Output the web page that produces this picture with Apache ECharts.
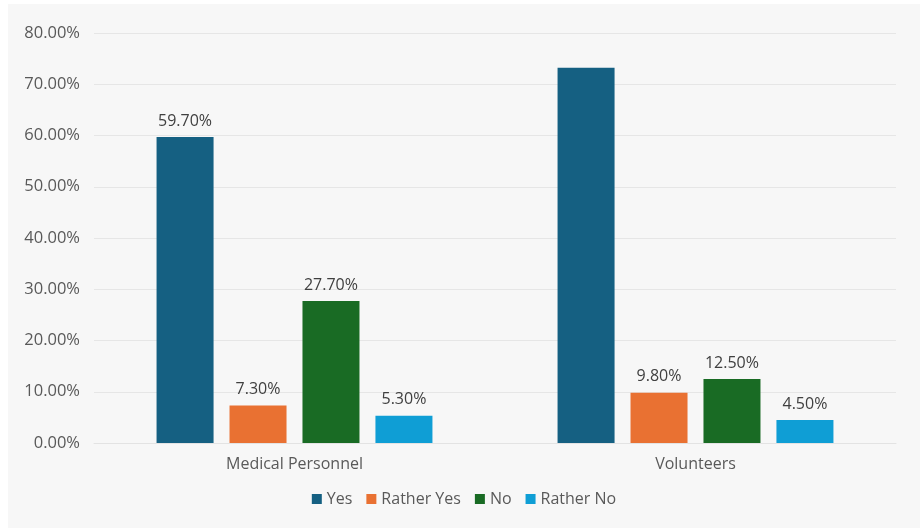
<!DOCTYPE html>
<html>
<head>
<meta charset="utf-8">
<script src="https://cdn.jsdelivr.net/npm/echarts@6/dist/echarts.min.js"></script>
<style>
html,body{margin:0;padding:0;background:#ffffff;width:920px;height:528px;overflow:hidden;}
#chart{position:absolute;left:8px;top:4px;width:912px;height:524px;}
</style>
</head>
<body>
<div id="chart"></div>
<script>
var categories = ['Medical Personnel', 'Volunteers'];
var seriesNames = ['Yes', 'Rather Yes', 'No', 'Rather No'];
var yesValues = [59.7, 73.2];
var ratherYesValues = [7.3, 9.8];
var noValues = [27.7, 12.5];
var ratherNoValues = [5.3, 4.5];
var hiddenLabels = [[false, true], [false, false], [false, false], [false, false]];
var colors = ['#156082', '#E97132', '#196B24', '#0F9ED5'];

var allValues = [yesValues, ratherYesValues, noValues, ratherNoValues];
var chart = echarts.init(document.getElementById('chart'));
var font = '"Open Sans", "Noto Sans", sans-serif';

var series = seriesNames.map(function (name, i) {
  return {
    name: name,
    type: 'bar',
    barWidth: 57,
    barGap: '28%',
    itemStyle: { color: colors[i] },
    label: {
      show: true,
      position: 'top',
      distance: 8,
      color: '#404040',
      fontSize: 16,
      fontFamily: font,
      formatter: function (p) { return p.value.toFixed(2) + '%'; }
    },
    data: allValues[i].map(function (v, j) {
      return hiddenLabels[i][j] ? { value: v, label: { show: false } } : v;
    })
  };
});

chart.setOption({
  backgroundColor: '#f7f7f7',
  animation: false,
  color: colors,
  grid: { left: 86, right: 24, top: 29, bottom: 85 },
  legend: {
    bottom: 16,
    left: 'center',
    itemWidth: 10,
    itemHeight: 10,
    itemGap: 14,
    icon: 'rect',
    textStyle: { color: '#595959', fontSize: 16, fontFamily: font },
    data: seriesNames
  },
  xAxis: {
    type: 'category',
    data: categories,
    axisLine: { show: true, lineStyle: { color: '#e3e3e3' } },
    axisTick: { show: false },
    axisLabel: { color: '#595959', fontSize: 16, fontFamily: font, margin: 13 }
  },
  yAxis: {
    type: 'value',
    min: 0,
    max: 80,
    interval: 10,
    axisLine: { show: false },
    axisTick: { show: false },
    splitLine: { lineStyle: { color: '#e6e6e6' } },
    axisLabel: {
      color: '#595959', fontSize: 16.5, fontFamily: font, margin: 14,
      formatter: function (v) { return v.toFixed(2) + '%'; }
    }
  },
  series: series
});
</script>
</body>
</html>
